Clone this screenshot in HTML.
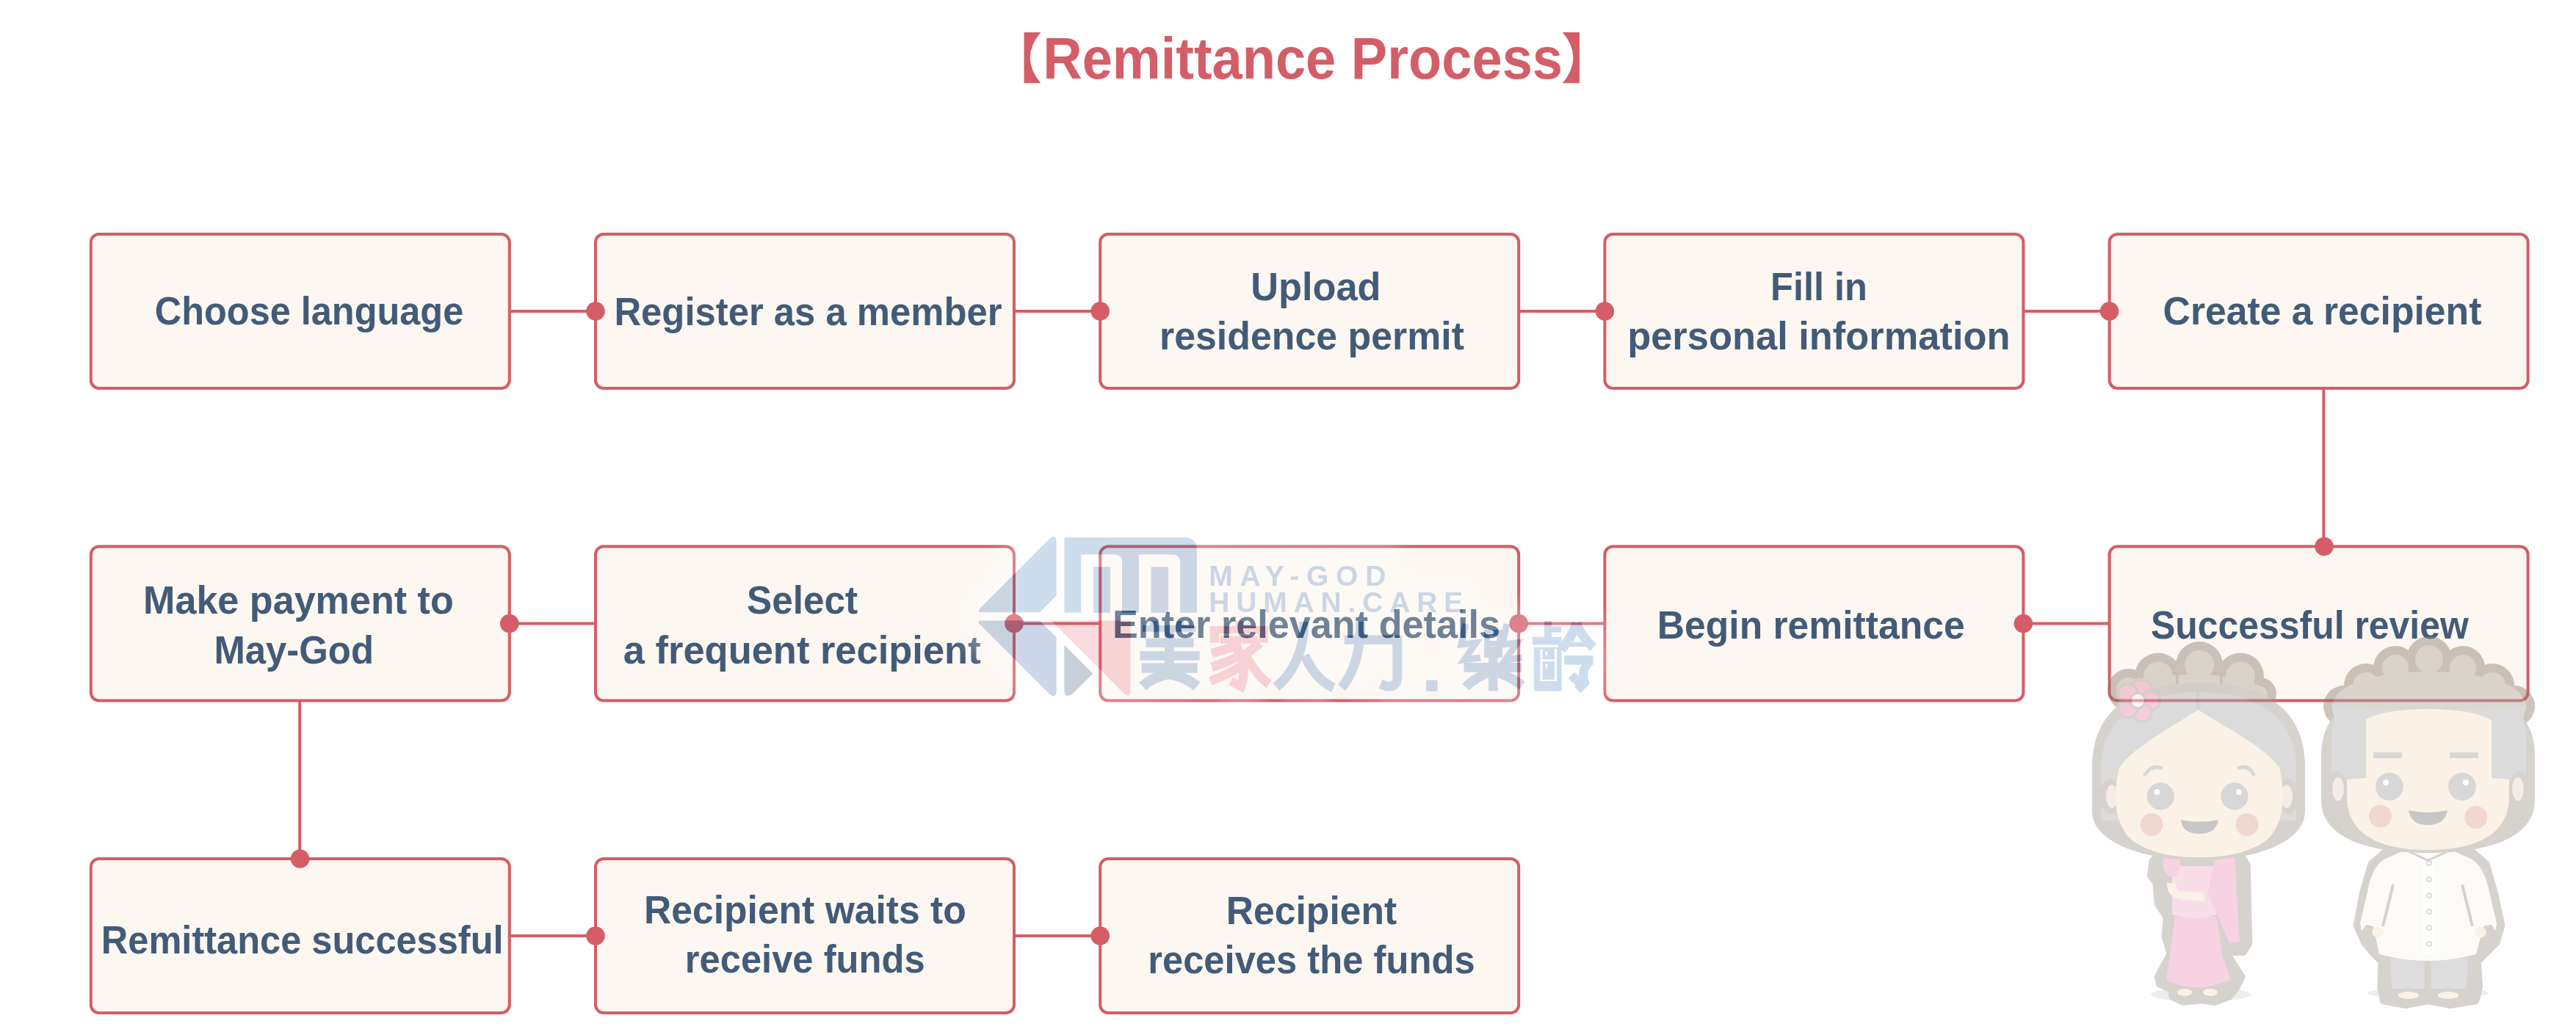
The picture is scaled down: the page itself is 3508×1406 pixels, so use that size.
<!DOCTYPE html>
<html><head><meta charset="utf-8">
<style>
html,body{margin:0;padding:0;background:#fff;width:3508px;height:1406px;overflow:hidden;}
svg{display:block;position:absolute;left:0;top:0;}
text{font-family:"Liberation Sans",sans-serif;font-weight:bold;}
</style></head>
<body>
<svg width="3508" height="1406" viewBox="0 0 3508 1406">
<rect width="3508" height="1406" fill="#ffffff"/>
<text x="1420.2" y="107.0" textLength="707.8" lengthAdjust="spacingAndGlyphs" font-size="79.5" fill="#d35e68">Remittance Process</text><path d="M1394.5,44 H1417.3 Q1388.3,78.65 1417.3,113.3 H1394.5 Z" fill="#d35e68"/><path d="M2151,44 H2127.9 Q2156.9,78.65 2127.9,113.3 H2151 Z" fill="#d35e68"/>
<rect x="123.8" y="319.0" width="570" height="210" rx="11" ry="11" fill="#fdf7f2" stroke="#d45d67" stroke-width="4"/><rect x="811.0" y="319.0" width="570" height="210" rx="11" ry="11" fill="#fdf7f2" stroke="#d45d67" stroke-width="4"/><rect x="1498.2" y="319.0" width="570" height="210" rx="11" ry="11" fill="#fdf7f2" stroke="#d45d67" stroke-width="4"/><rect x="2185.4" y="319.0" width="570" height="210" rx="11" ry="11" fill="#fdf7f2" stroke="#d45d67" stroke-width="4"/><rect x="2872.6" y="319.0" width="570" height="210" rx="11" ry="11" fill="#fdf7f2" stroke="#d45d67" stroke-width="4"/><rect x="123.8" y="744.5" width="570" height="210" rx="11" ry="11" fill="#fdf7f2" stroke="#d45d67" stroke-width="4"/><rect x="811.0" y="744.5" width="570" height="210" rx="11" ry="11" fill="#fdf7f2" stroke="#d45d67" stroke-width="4"/><rect x="1498.2" y="744.5" width="570" height="210" rx="11" ry="11" fill="#fdf7f2" stroke="#d45d67" stroke-width="4"/><rect x="2185.4" y="744.5" width="570" height="210" rx="11" ry="11" fill="#fdf7f2" stroke="#d45d67" stroke-width="4"/><rect x="2872.6" y="744.5" width="570" height="210" rx="11" ry="11" fill="#fdf7f2" stroke="#d45d67" stroke-width="4"/><rect x="123.8" y="1170.0" width="570" height="210" rx="11" ry="11" fill="#fdf7f2" stroke="#d45d67" stroke-width="4"/><rect x="811.0" y="1170.0" width="570" height="210" rx="11" ry="11" fill="#fdf7f2" stroke="#d45d67" stroke-width="4"/><rect x="1498.2" y="1170.0" width="570" height="210" rx="11" ry="11" fill="#fdf7f2" stroke="#d45d67" stroke-width="4"/>
<rect x="693.8" y="422.0" width="117.2" height="4" fill="#d45d67"/><circle cx="811.0" cy="424.0" r="12.8" fill="#d45d67"/><rect x="1381.0" y="422.0" width="117.2" height="4" fill="#d45d67"/><circle cx="1498.2" cy="424.0" r="12.8" fill="#d45d67"/><rect x="2068.2" y="422.0" width="117.2" height="4" fill="#d45d67"/><circle cx="2185.4" cy="424.0" r="12.8" fill="#d45d67"/><rect x="2755.4" y="422.0" width="117.2" height="4" fill="#d45d67"/><circle cx="2872.6" cy="424.0" r="12.8" fill="#d45d67"/><rect x="693.8" y="847.5" width="117.2" height="4" fill="#d45d67"/><circle cx="693.8" cy="849.5" r="12.8" fill="#d45d67"/><rect x="1381.0" y="847.5" width="117.2" height="4" fill="#d45d67"/><circle cx="1381.0" cy="849.5" r="12.8" fill="#d45d67"/><rect x="2068.2" y="847.5" width="117.2" height="4" fill="#d45d67"/><circle cx="2068.2" cy="849.5" r="12.8" fill="#d45d67"/><rect x="2755.4" y="847.5" width="117.2" height="4" fill="#d45d67"/><circle cx="2755.4" cy="849.5" r="12.8" fill="#d45d67"/><rect x="693.8" y="1273.0" width="117.2" height="4" fill="#d45d67"/><circle cx="811.0" cy="1275.0" r="12.8" fill="#d45d67"/><rect x="1381.0" y="1273.0" width="117.2" height="4" fill="#d45d67"/><circle cx="1498.2" cy="1275.0" r="12.8" fill="#d45d67"/><rect x="3162.4" y="529.0" width="4" height="215.5" fill="#d45d67"/><circle cx="3165.0" cy="744.5" r="12.8" fill="#d45d67"/><rect x="406.2" y="954.5" width="4" height="215.5" fill="#d45d67"/><circle cx="408.6" cy="1170.0" r="12.8" fill="#d45d67"/>
<text x="210.8" y="442.0" textLength="420.4" lengthAdjust="spacingAndGlyphs" font-size="54.5" fill="#425b78">Choose language</text><text x="836.4" y="442.6" textLength="528.2" lengthAdjust="spacingAndGlyphs" font-size="54.5" fill="#425b78">Register as a member</text><text x="1703.2" y="409.0" textLength="177.4" lengthAdjust="spacingAndGlyphs" font-size="54.5" fill="#425b78">Upload</text><text x="1579.0" y="475.8" textLength="415.0" lengthAdjust="spacingAndGlyphs" font-size="54.5" fill="#425b78">residence permit</text><text x="2411.0" y="409.0" textLength="132.0" lengthAdjust="spacingAndGlyphs" font-size="54.5" fill="#425b78">Fill in</text><text x="2216.2" y="475.8" textLength="521.4" lengthAdjust="spacingAndGlyphs" font-size="54.5" fill="#425b78">personal information</text><text x="2945.6" y="442.3" textLength="433.8" lengthAdjust="spacingAndGlyphs" font-size="54.5" fill="#425b78">Create a recipient</text><text x="195.0" y="836.3" textLength="422.8" lengthAdjust="spacingAndGlyphs" font-size="54.5" fill="#425b78">Make payment to</text><text x="291.4" y="903.9" textLength="217.6" lengthAdjust="spacingAndGlyphs" font-size="54.5" fill="#425b78">May-God</text><text x="1017.0" y="836.3" textLength="151.2" lengthAdjust="spacingAndGlyphs" font-size="54.5" fill="#425b78">Select</text><text x="848.8" y="903.9" textLength="486.8" lengthAdjust="spacingAndGlyphs" font-size="54.5" fill="#425b78">a frequent recipient</text><text x="1515.0" y="868.6" textLength="528.0" lengthAdjust="spacingAndGlyphs" font-size="54.5" fill="#425b78">Enter relevant details</text><text x="2256.8" y="869.6" textLength="418.8" lengthAdjust="spacingAndGlyphs" font-size="54.5" fill="#425b78">Begin remittance</text><text x="2929.0" y="869.6" textLength="432.8" lengthAdjust="spacingAndGlyphs" font-size="54.5" fill="#425b78">Successful review</text><text x="137.8" y="1299.3" textLength="547.8" lengthAdjust="spacingAndGlyphs" font-size="54.5" fill="#425b78">Remittance successful</text><text x="877.0" y="1257.8" textLength="438.8" lengthAdjust="spacingAndGlyphs" font-size="54.5" fill="#425b78">Recipient waits to</text><text x="932.8" y="1324.9" textLength="326.8" lengthAdjust="spacingAndGlyphs" font-size="54.5" fill="#425b78">receive funds</text><text x="1669.8" y="1259.0" textLength="232.4" lengthAdjust="spacingAndGlyphs" font-size="54.5" fill="#425b78">Recipient</text><text x="1563.2" y="1325.8" textLength="445.4" lengthAdjust="spacingAndGlyphs" font-size="54.5" fill="#425b78">receives the funds</text>
<defs><filter id="glow" x="-20%" y="-40%" width="140%" height="180%"><feGaussianBlur stdDeviation="10"/></filter></defs>
<mask id="wmmask" maskUnits="userSpaceOnUse" x="0" y="0" width="3508" height="1406"><rect width="3508" height="1406" fill="#fff"/><g fill="#000" color="#000"><path d="M1438.7,811.3 L1438.7,740 Q1438.7,726 1429,734.3 L1335,828.3 Q1329.1,834.2 1337.5,834.2 L1415.8,834.2 Z"/><path d="M1438.7,868.3 L1438.7,939.6 Q1438.7,953.6 1429,945.3 L1335,851.3 Q1329.1,845.4 1337.5,845.4 L1415.8,845.4 Z"/><path d="M1449.3,878.8 L1488.3,917.8 L1461,945 Q1449.3,953 1449.3,940 Z"/><path d="M1431.4,845.4 L1539.5,845.4 L1539.5,940 Q1539.5,953 1530,944 Z"/><path d="M1449.5,834.7 V732.2 H1612 Q1630,732.2 1630,750 V834.7 H1607.1 V766.5 Q1607.1,755.6 1596.5,755.6 H1550.9 V834.7 H1528 V766.5 Q1528,755.6 1517.5,755.6 H1472.3 V834.7 Z M1489,772.3 H1511.9 V834.7 H1489 Z M1567.6,772.3 H1591 V834.7 H1567.6 Z"/><text x="1646.3" y="798.4" font-size="39" textLength="241" lengthAdjust="spacing" font-family="Liberation Sans" font-weight="bold">MAY-GOD</text><text x="1646.3" y="834.3" font-size="39" textLength="346" lengthAdjust="spacing" font-family="Liberation Sans" font-weight="bold">HUMAN.CARE</text><rect x="1942.2" y="926.5" width="15.4" height="15.4"/><rect x="1566.0" y="846.0" width="10.0" height="8.0"/><rect x="1602.0" y="846.0" width="10.0" height="8.0"/><rect x="1556.0" y="851.8" width="72.5" height="8.9"/><rect x="1560.7" y="869.5" width="64.9" height="12.5"/><rect x="1552.5" y="887.2" width="81.2" height="12.5"/><rect x="1554.7" y="903.4" width="76.0" height="13.3"/><rect x="1586.0" y="856.0" width="13.0" height="65.0"/><path d="M1592,918 Q1570,922 1556,935" fill="none" stroke="currentColor" stroke-width="14" stroke-linecap="butt"/><path d="M1592,918 Q1614,922 1630,935" fill="none" stroke="currentColor" stroke-width="14" stroke-linecap="butt"/><path d="M1776,847 Q1775,905 1738,936" fill="none" stroke="currentColor" stroke-width="13" stroke-linecap="butt"/><path d="M1777,893 Q1790,925 1816,937" fill="none" stroke="currentColor" stroke-width="13" stroke-linecap="butt"/><rect x="1830.6" y="865.5" width="78.4" height="12.5"/><path d="M1902.8,870 V922 Q1902.8,937 1888,935 L1880,932" fill="none" stroke="currentColor" stroke-width="13" stroke-linecap="butt"/><path d="M1852.7,847 Q1853,905 1827,937" fill="none" stroke="currentColor" stroke-width="13" stroke-linecap="butt"/><rect x="1993.6" y="903.0" width="78.8" height="12.7"/><rect x="2027.0" y="880.4" width="12.6" height="61.1"/><path d="M2030,915 Q2010,922 1996,936" fill="none" stroke="currentColor" stroke-width="13" stroke-linecap="butt"/><path d="M2037,915 Q2057,922 2073,934" fill="none" stroke="currentColor" stroke-width="13" stroke-linecap="butt"/><path fill-rule="evenodd" d="M2021,858 H2046 V896 H2021 Z M2028.5,866 H2038.5 V873 H2028.5 Z M2028.5,880 H2038.5 V887 H2028.5 Z"/><path d="M1996,850 L1990,878 L2010,876 L1994,899 L2016,896" fill="none" stroke="currentColor" stroke-width="9" stroke-linecap="butt"/><path d="M2052,850 L2046,878 L2066,876 L2050,899 L2073,896" fill="none" stroke="currentColor" stroke-width="9" stroke-linecap="butt"/><rect x="2103.0" y="846.0" width="10.0" height="22.0"/><rect x="2112.0" y="853.5" width="14.0" height="8.0"/><rect x="2086.9" y="867.8" width="39.7" height="10.7"/><path fill-rule="evenodd" d="M2088.8,881.7 H2126.6 V941.5 H2088.8 Z M2097.5,884 H2100.5 V928 H2097.5 Z M2117,884 H2120 V928 H2117 Z M2100.5,898.5 H2117 V901 H2100.5 Z M2100.5,926 H2117 V928 H2100.5 Z M2104,888 L2108,888 L2106,895 Z M2104,905 L2108,905 L2106,912 Z"/><path d="M2147,849 Q2140,870 2126,885" fill="none" stroke="currentColor" stroke-width="13" stroke-linecap="butt"/><path d="M2147,849 Q2155,870 2170,882" fill="none" stroke="currentColor" stroke-width="13" stroke-linecap="butt"/><rect x="2138.0" y="875.0" width="22.0" height="6.0"/><rect x="2130.3" y="893.0" width="39.1" height="12.6"/><path d="M2166,900 Q2152,912 2158,930 L2148,940" fill="none" stroke="currentColor" stroke-width="12" stroke-linecap="butt"/><path d="M2140,920 L2158,938" fill="none" stroke="currentColor" stroke-width="12" stroke-linecap="butt"/><rect x="1683.0" y="846.0" width="11.0" height="10.0"/><rect x="1647.7" y="853.0" width="78.9" height="10.0"/><rect x="1647.7" y="853.0" width="12.3" height="22.4"/><rect x="1714.0" y="853.0" width="12.6" height="22.4"/><rect x="1661.7" y="866.5" width="50.9" height="10.4"/><path d="M1650,890 Q1670,885 1690,878" fill="none" stroke="currentColor" stroke-width="12.5" stroke-linecap="butt"/><path d="M1650,909 Q1672,902 1688,893" fill="none" stroke="currentColor" stroke-width="12.5" stroke-linecap="butt"/><path d="M1648,928 Q1675,918 1692,906" fill="none" stroke="currentColor" stroke-width="12.5" stroke-linecap="butt"/><path d="M1683,882 Q1700,905 1690,935 L1676,928" fill="none" stroke="currentColor" stroke-width="12.5" stroke-linecap="butt"/><path d="M1693,886 Q1710,920 1728,932" fill="none" stroke="currentColor" stroke-width="12.5" stroke-linecap="butt"/><path d="M1698,890 L1716,876" fill="none" stroke="currentColor" stroke-width="12.5" stroke-linecap="butt"/></g></mask>
<g mask="url(#wmmask)"><g opacity="0.24" filter="url(#glow)"><g fill="#fff" stroke="#fff" color="#fff" stroke-width="72" stroke-linejoin="round"><path d="M1438.7,811.3 L1438.7,740 Q1438.7,726 1429,734.3 L1335,828.3 Q1329.1,834.2 1337.5,834.2 L1415.8,834.2 Z"/><path d="M1438.7,868.3 L1438.7,939.6 Q1438.7,953.6 1429,945.3 L1335,851.3 Q1329.1,845.4 1337.5,845.4 L1415.8,845.4 Z"/><path d="M1449.3,878.8 L1488.3,917.8 L1461,945 Q1449.3,953 1449.3,940 Z"/><path d="M1431.4,845.4 L1539.5,845.4 L1539.5,940 Q1539.5,953 1530,944 Z"/><path d="M1449.5,834.7 V732.2 H1612 Q1630,732.2 1630,750 V834.7 H1607.1 V766.5 Q1607.1,755.6 1596.5,755.6 H1550.9 V834.7 H1528 V766.5 Q1528,755.6 1517.5,755.6 H1472.3 V834.7 Z M1489,772.3 H1511.9 V834.7 H1489 Z M1567.6,772.3 H1591 V834.7 H1567.6 Z"/><text x="1646.3" y="798.4" font-size="39" textLength="241" lengthAdjust="spacing" font-family="Liberation Sans" font-weight="bold">MAY-GOD</text><text x="1646.3" y="834.3" font-size="39" textLength="346" lengthAdjust="spacing" font-family="Liberation Sans" font-weight="bold">HUMAN.CARE</text><rect x="1942.2" y="926.5" width="15.4" height="15.4"/><rect x="1566.0" y="846.0" width="10.0" height="8.0"/><rect x="1602.0" y="846.0" width="10.0" height="8.0"/><rect x="1556.0" y="851.8" width="72.5" height="8.9"/><rect x="1560.7" y="869.5" width="64.9" height="12.5"/><rect x="1552.5" y="887.2" width="81.2" height="12.5"/><rect x="1554.7" y="903.4" width="76.0" height="13.3"/><rect x="1586.0" y="856.0" width="13.0" height="65.0"/><path d="M1592,918 Q1570,922 1556,935" fill="none" stroke="currentColor" data-sw="14" stroke-linecap="butt"/><path d="M1592,918 Q1614,922 1630,935" fill="none" stroke="currentColor" data-sw="14" stroke-linecap="butt"/><path d="M1776,847 Q1775,905 1738,936" fill="none" stroke="currentColor" data-sw="13" stroke-linecap="butt"/><path d="M1777,893 Q1790,925 1816,937" fill="none" stroke="currentColor" data-sw="13" stroke-linecap="butt"/><rect x="1830.6" y="865.5" width="78.4" height="12.5"/><path d="M1902.8,870 V922 Q1902.8,937 1888,935 L1880,932" fill="none" stroke="currentColor" data-sw="13" stroke-linecap="butt"/><path d="M1852.7,847 Q1853,905 1827,937" fill="none" stroke="currentColor" data-sw="13" stroke-linecap="butt"/><rect x="1993.6" y="903.0" width="78.8" height="12.7"/><rect x="2027.0" y="880.4" width="12.6" height="61.1"/><path d="M2030,915 Q2010,922 1996,936" fill="none" stroke="currentColor" data-sw="13" stroke-linecap="butt"/><path d="M2037,915 Q2057,922 2073,934" fill="none" stroke="currentColor" data-sw="13" stroke-linecap="butt"/><path fill-rule="evenodd" d="M2021,858 H2046 V896 H2021 Z M2028.5,866 H2038.5 V873 H2028.5 Z M2028.5,880 H2038.5 V887 H2028.5 Z"/><path d="M1996,850 L1990,878 L2010,876 L1994,899 L2016,896" fill="none" stroke="currentColor" data-sw="9" stroke-linecap="butt"/><path d="M2052,850 L2046,878 L2066,876 L2050,899 L2073,896" fill="none" stroke="currentColor" data-sw="9" stroke-linecap="butt"/><rect x="2103.0" y="846.0" width="10.0" height="22.0"/><rect x="2112.0" y="853.5" width="14.0" height="8.0"/><rect x="2086.9" y="867.8" width="39.7" height="10.7"/><path fill-rule="evenodd" d="M2088.8,881.7 H2126.6 V941.5 H2088.8 Z M2097.5,884 H2100.5 V928 H2097.5 Z M2117,884 H2120 V928 H2117 Z M2100.5,898.5 H2117 V901 H2100.5 Z M2100.5,926 H2117 V928 H2100.5 Z M2104,888 L2108,888 L2106,895 Z M2104,905 L2108,905 L2106,912 Z"/><path d="M2147,849 Q2140,870 2126,885" fill="none" stroke="currentColor" data-sw="13" stroke-linecap="butt"/><path d="M2147,849 Q2155,870 2170,882" fill="none" stroke="currentColor" data-sw="13" stroke-linecap="butt"/><rect x="2138.0" y="875.0" width="22.0" height="6.0"/><rect x="2130.3" y="893.0" width="39.1" height="12.6"/><path d="M2166,900 Q2152,912 2158,930 L2148,940" fill="none" stroke="currentColor" data-sw="12" stroke-linecap="butt"/><path d="M2140,920 L2158,938" fill="none" stroke="currentColor" data-sw="12" stroke-linecap="butt"/><rect x="1683.0" y="846.0" width="11.0" height="10.0"/><rect x="1647.7" y="853.0" width="78.9" height="10.0"/><rect x="1647.7" y="853.0" width="12.3" height="22.4"/><rect x="1714.0" y="853.0" width="12.6" height="22.4"/><rect x="1661.7" y="866.5" width="50.9" height="10.4"/><path d="M1650,890 Q1670,885 1690,878" fill="none" stroke="currentColor" data-sw="12.5" stroke-linecap="butt"/><path d="M1650,909 Q1672,902 1688,893" fill="none" stroke="currentColor" data-sw="12.5" stroke-linecap="butt"/><path d="M1648,928 Q1675,918 1692,906" fill="none" stroke="currentColor" data-sw="12.5" stroke-linecap="butt"/><path d="M1683,882 Q1700,905 1690,935 L1676,928" fill="none" stroke="currentColor" data-sw="12.5" stroke-linecap="butt"/><path d="M1693,886 Q1710,920 1728,932" fill="none" stroke="currentColor" data-sw="12.5" stroke-linecap="butt"/><path d="M1698,890 L1716,876" fill="none" stroke="currentColor" data-sw="12.5" stroke-linecap="butt"/></g></g></g>
<g opacity="0.21" fill="rgb(26,98,174)" color="rgb(26,98,174)"><path d="M1438.7,811.3 L1438.7,740 Q1438.7,726 1429,734.3 L1335,828.3 Q1329.1,834.2 1337.5,834.2 L1415.8,834.2 Z"/><path d="M1449.5,834.7 V732.2 H1612 Q1630,732.2 1630,750 V834.7 H1607.1 V766.5 Q1607.1,755.6 1596.5,755.6 H1550.9 V834.7 H1528 V766.5 Q1528,755.6 1517.5,755.6 H1472.3 V834.7 Z M1489,772.3 H1511.9 V834.7 H1489 Z M1567.6,772.3 H1591 V834.7 H1567.6 Z" fill-rule="evenodd"/><text x="1646.3" y="798.4" font-size="39" textLength="241" lengthAdjust="spacing" font-family="Liberation Sans" font-weight="bold">MAY-GOD</text><text x="1646.3" y="834.3" font-size="39" textLength="346" lengthAdjust="spacing" font-family="Liberation Sans" font-weight="bold">HUMAN.CARE</text><rect x="1942.2" y="926.5" width="15.4" height="15.4"/><rect x="1566.0" y="846.0" width="10.0" height="8.0"/><rect x="1602.0" y="846.0" width="10.0" height="8.0"/><rect x="1556.0" y="851.8" width="72.5" height="8.9"/><rect x="1560.7" y="869.5" width="64.9" height="12.5"/><rect x="1552.5" y="887.2" width="81.2" height="12.5"/><rect x="1554.7" y="903.4" width="76.0" height="13.3"/><rect x="1586.0" y="856.0" width="13.0" height="65.0"/><path d="M1592,918 Q1570,922 1556,935" fill="none" stroke="currentColor" stroke-width="14" stroke-linecap="butt"/><path d="M1592,918 Q1614,922 1630,935" fill="none" stroke="currentColor" stroke-width="14" stroke-linecap="butt"/><path d="M1776,847 Q1775,905 1738,936" fill="none" stroke="currentColor" stroke-width="13" stroke-linecap="butt"/><path d="M1777,893 Q1790,925 1816,937" fill="none" stroke="currentColor" stroke-width="13" stroke-linecap="butt"/><rect x="1830.6" y="865.5" width="78.4" height="12.5"/><path d="M1902.8,870 V922 Q1902.8,937 1888,935 L1880,932" fill="none" stroke="currentColor" stroke-width="13" stroke-linecap="butt"/><path d="M1852.7,847 Q1853,905 1827,937" fill="none" stroke="currentColor" stroke-width="13" stroke-linecap="butt"/><rect x="1993.6" y="903.0" width="78.8" height="12.7"/><rect x="2027.0" y="880.4" width="12.6" height="61.1"/><path d="M2030,915 Q2010,922 1996,936" fill="none" stroke="currentColor" stroke-width="13" stroke-linecap="butt"/><path d="M2037,915 Q2057,922 2073,934" fill="none" stroke="currentColor" stroke-width="13" stroke-linecap="butt"/><path fill-rule="evenodd" d="M2021,858 H2046 V896 H2021 Z M2028.5,866 H2038.5 V873 H2028.5 Z M2028.5,880 H2038.5 V887 H2028.5 Z"/><path d="M1996,850 L1990,878 L2010,876 L1994,899 L2016,896" fill="none" stroke="currentColor" stroke-width="9" stroke-linecap="butt"/><path d="M2052,850 L2046,878 L2066,876 L2050,899 L2073,896" fill="none" stroke="currentColor" stroke-width="9" stroke-linecap="butt"/><rect x="2103.0" y="846.0" width="10.0" height="22.0"/><rect x="2112.0" y="853.5" width="14.0" height="8.0"/><rect x="2086.9" y="867.8" width="39.7" height="10.7"/><path fill-rule="evenodd" d="M2088.8,881.7 H2126.6 V941.5 H2088.8 Z M2097.5,884 H2100.5 V928 H2097.5 Z M2117,884 H2120 V928 H2117 Z M2100.5,898.5 H2117 V901 H2100.5 Z M2100.5,926 H2117 V928 H2100.5 Z M2104,888 L2108,888 L2106,895 Z M2104,905 L2108,905 L2106,912 Z"/><path d="M2147,849 Q2140,870 2126,885" fill="none" stroke="currentColor" stroke-width="13" stroke-linecap="butt"/><path d="M2147,849 Q2155,870 2170,882" fill="none" stroke="currentColor" stroke-width="13" stroke-linecap="butt"/><rect x="2138.0" y="875.0" width="22.0" height="6.0"/><rect x="2130.3" y="893.0" width="39.1" height="12.6"/><path d="M2166,900 Q2152,912 2158,930 L2148,940" fill="none" stroke="currentColor" stroke-width="12" stroke-linecap="butt"/><path d="M2140,920 L2158,938" fill="none" stroke="currentColor" stroke-width="12" stroke-linecap="butt"/></g>
<g opacity="0.25" fill="rgb(47,91,163)"><path d="M1438.7,868.3 L1438.7,939.6 Q1438.7,953.6 1429,945.3 L1335,851.3 Q1329.1,845.4 1337.5,845.4 L1415.8,845.4 Z"/></g>
<g opacity="0.30" fill="rgb(70,100,130)"><path d="M1449.3,878.8 L1488.3,917.8 L1461,945 Q1449.3,953 1449.3,940 Z"/></g>
<g opacity="0.21" fill="rgb(231,79,98)" color="rgb(231,79,98)"><path d="M1431.4,845.4 L1539.5,845.4 L1539.5,940 Q1539.5,953 1530,944 Z"/><rect x="1683.0" y="846.0" width="11.0" height="10.0"/><rect x="1647.7" y="853.0" width="78.9" height="10.0"/><rect x="1647.7" y="853.0" width="12.3" height="22.4"/><rect x="1714.0" y="853.0" width="12.6" height="22.4"/><rect x="1661.7" y="866.5" width="50.9" height="10.4"/><path d="M1650,890 Q1670,885 1690,878" fill="none" stroke="currentColor" stroke-width="12.5" stroke-linecap="butt"/><path d="M1650,909 Q1672,902 1688,893" fill="none" stroke="currentColor" stroke-width="12.5" stroke-linecap="butt"/><path d="M1648,928 Q1675,918 1692,906" fill="none" stroke="currentColor" stroke-width="12.5" stroke-linecap="butt"/><path d="M1683,882 Q1700,905 1690,935 L1676,928" fill="none" stroke="currentColor" stroke-width="12.5" stroke-linecap="butt"/><path d="M1693,886 Q1710,920 1728,932" fill="none" stroke="currentColor" stroke-width="12.5" stroke-linecap="butt"/><path d="M1698,890 L1716,876" fill="none" stroke="currentColor" stroke-width="12.5" stroke-linecap="butt"/></g>
<g opacity="0.45"><ellipse cx="2996.8" cy="1355.0" rx="68.0" ry="9.7" fill="#d8d8d8" /><path d="M2944.8,1156.6 L2931.5,1173.6 L2929.0,1193.0 L2936.3,1202.6 L2938.7,1231.7 L2947.2,1243.8 L2950.8,1251.0 L2948.4,1275.3 L2955.7,1299.5 L2938.7,1331.0 L2941.2,1340.6 L2958.1,1347.9 L2958.1,1357.6 L2972.6,1364.8 L2996.8,1362.4 L3016.2,1364.8 L3035.6,1357.6 L3045.3,1345.5 L3052.5,1331.0 L3035.6,1304.3 L3035.6,1297.0 L3055.0,1297.0 L3062.2,1285.0 L3059.8,1178.4 L3045.3,1156.6 Z" fill="#a69d94" stroke="#a69d94" stroke-width="10" stroke-linejoin="round"/><path d="M2961.7,1248.6 L2955.0,1300.0 L2950.0,1335.8 L2972.6,1344.0 L3000.0,1346.0 L3038.0,1335.8 L3026.0,1300.0 L3018.6,1248.6 Z" fill="#ed9dc1" /><path d="M2958,1180 L3016,1180 L3018,1246 Q2988,1256 2958,1246 Z" fill="#f2b8d2" /><path d="M3018.6,1158.0 L3042.8,1158.0 L3050.0,1283.0 L3036.0,1285.0 L3006.5,1217.0 Z" fill="#ed9dc1" /><ellipse cx="2957.5" cy="1176.0" rx="12.0" ry="19.0" fill="#ed9dc1" /><path d="M2951,1203 Q2950,1226 2980,1226 L3003,1228 L3000,1216 L2966,1214 L2962,1203 Z" fill="#f8e4cc" /><ellipse cx="2975.0" cy="1352.0" rx="10.0" ry="5.0" fill="#f8e4cc" /><ellipse cx="3010.0" cy="1352.0" rx="10.0" ry="5.0" fill="#f8e4cc" /><circle cx="2939.0" cy="921.5" r="32.0" fill="#8f7f6d" /><circle cx="2995.0" cy="906.0" r="32.0" fill="#8f7f6d" /><circle cx="3051.0" cy="921.5" r="32.0" fill="#8f7f6d" /><circle cx="2899.0" cy="940.0" r="29.0" fill="#8f7f6d" /><circle cx="3078.0" cy="945.0" r="22.0" fill="#8f7f6d" /><circle cx="2939.0" cy="921.5" r="20.0" fill="#b0a89f" /><circle cx="2995.0" cy="906.0" r="20.0" fill="#b0a89f" /><circle cx="3051.0" cy="921.5" r="20.0" fill="#b0a89f" /><circle cx="2899.0" cy="940.0" r="17.0" fill="#b0a89f" /><circle cx="3078.0" cy="945.0" r="10.0" fill="#b0a89f" /><ellipse cx="2990.0" cy="945.0" rx="95.0" ry="26.0" fill="#b0a89f" /><path d="M2965,912 V935 M3025,912 V935" fill="none" stroke="#8f7f6d" stroke-width="4"/><path d="M2849,1045 C2849,960 2915,930 2995,930 C3075,930 3139,960 3139,1045 L3139,1105 C3139,1150 3065,1172 2995,1172 C2925,1172 2849,1150 2849,1105 Z" fill="#a69d94" /><path d="M2861,1048 C2861,972 2922,943 2995,943 C3068,943 3127,972 3127,1048 L3127,1118 L2861,1118 Z" fill="#b0b0b0" /><ellipse cx="2874.0" cy="1085.0" rx="14.0" ry="24.0" fill="#a69d94" /><ellipse cx="3116.0" cy="1085.0" rx="14.0" ry="24.0" fill="#a69d94" /><ellipse cx="2876.0" cy="1085.0" rx="8.0" ry="16.0" fill="#e8d6c6" /><ellipse cx="3114.0" cy="1085.0" rx="8.0" ry="16.0" fill="#e8d6c6" /><path d="M2995,930 Q2991,950 2994,968" fill="none" stroke="#a69d94" stroke-width="3"/><path d="M2993.5,967 C2955,992 2905,1018 2886,1046 C2876,1085 2880,1125 2905,1146 C2932,1164 2962,1168 2995,1168 C3028,1168 3058,1164 3085,1146 C3110,1125 3114,1085 3104,1046 C3085,1018 3032,992 2993.5,967 Z" fill="#f8e4cc" /><circle cx="2942.3" cy="1084.8" r="18.6" fill="#a8a8a8" /><circle cx="3043.0" cy="1084.8" r="18.6" fill="#a8a8a8" /><circle cx="2937.0" cy="1079.0" r="4.0" fill="#fff" /><circle cx="3049.0" cy="1079.0" r="4.0" fill="#fff" /><path d="M2920,1057 Q2930,1040 2945,1047" fill="none" stroke="#a8a8a8" stroke-width="5"/><path d="M3047,1047 Q3062,1040 3070,1057" fill="none" stroke="#a8a8a8" stroke-width="5"/><circle cx="2930.0" cy="1123.5" r="15.5" fill="#e0aa96" /><circle cx="3060.0" cy="1123.5" r="15.5" fill="#e0aa96" /><path d="M2970,1117 Q2995,1122 3021,1117 Q3018,1136 2995,1136 Q2972,1136 2970,1117 Z" fill="#858585" /><circle cx="2916.3" cy="938.4" r="13.0" fill="#e990b2" stroke="#a69d94" stroke-width="4"/><circle cx="2928.3" cy="954.4" r="13.0" fill="#e990b2" stroke="#a69d94" stroke-width="4"/><circle cx="2916.8" cy="970.7" r="13.0" fill="#e990b2" stroke="#a69d94" stroke-width="4"/><circle cx="2897.7" cy="964.8" r="13.0" fill="#e990b2" stroke="#a69d94" stroke-width="4"/><circle cx="2897.4" cy="944.8" r="13.0" fill="#e990b2" stroke="#a69d94" stroke-width="4"/><circle cx="2911.3" cy="954.6" r="10.0" fill="#fbeef4" stroke="#a69d94" stroke-width="3"/></g><g opacity="0.45"><ellipse cx="3306.0" cy="1353.0" rx="82.6" ry="8.0" fill="#d8d8d8" /><path d="M3276.0,1154.0 L3248.0,1161.0 L3229.5,1177.2 L3218.0,1216.8 L3209.8,1261.0 L3220.2,1284.2 L3231.9,1298.2 L3243.5,1309.8 L3242.3,1344.7 L3245.8,1363.3 L3276.0,1369.0 L3306.3,1363.3 L3336.5,1369.0 L3371.4,1363.3 L3376.0,1344.7 L3373.8,1309.8 L3385.4,1298.2 L3399.3,1284.2 L3406.3,1261.0 L3397.0,1216.8 L3385.4,1177.2 L3366.8,1161.0 L3338.9,1154.0 Z" fill="#a69d94" stroke="#a69d94" stroke-width="10" stroke-linejoin="round"/><path d="M3255,1305 L3361,1305 L3359,1347 L3257,1347 Z" fill="#b4b4b4" /><path d="M3306,1300 V1362" fill="none" stroke="#a69d94" stroke-width="9"/><path d="M3276,1158 L3338,1158 L3365,1170 Q3383,1180 3390,1215 L3400,1258 L3382,1262 L3372,1300 Q3306,1318 3240,1300 L3232,1262 L3214,1258 L3224,1215 Q3230,1180 3248,1170 Z" fill="#fbf8ef" /><path d="M3259,1205 L3245,1262 M3353,1205 L3367,1262" fill="none" stroke="#a69d94" stroke-width="4"/><path d="M3300,1160 H3316 V1300 H3300 Z" fill="#ffffff" /><path d="M3276,1158 L3306,1172 L3338,1158" fill="none" stroke="#a69d94" stroke-width="3"/><circle cx="3308.0" cy="1176.0" r="3.0" fill="none" stroke="#a69d94" stroke-width="1.5"/><circle cx="3308.0" cy="1198.0" r="3.0" fill="none" stroke="#a69d94" stroke-width="1.5"/><circle cx="3308.0" cy="1220.0" r="3.0" fill="none" stroke="#a69d94" stroke-width="1.5"/><circle cx="3308.0" cy="1242.0" r="3.0" fill="none" stroke="#a69d94" stroke-width="1.5"/><circle cx="3308.0" cy="1264.0" r="3.0" fill="none" stroke="#a69d94" stroke-width="1.5"/><circle cx="3308.0" cy="1286.0" r="3.0" fill="none" stroke="#a69d94" stroke-width="1.5"/><path d="M3224,1258 L3214,1258 L3216,1268 Z M3392,1258 L3400,1258 L3398,1268 Z" fill="#ffffff" /><ellipse cx="3238.0" cy="1270.0" rx="8.0" ry="7.0" fill="#f8e4cc" /><ellipse cx="3378.0" cy="1270.0" rx="8.0" ry="7.0" fill="#f8e4cc" /><ellipse cx="3280.0" cy="1356.0" rx="14.0" ry="5.0" fill="#f8e4cc" /><ellipse cx="3334.0" cy="1356.0" rx="14.0" ry="5.0" fill="#f8e4cc" /><circle cx="3308.0" cy="898.0" r="31.0" fill="#8f7f6d" /><circle cx="3262.0" cy="910.0" r="30.0" fill="#8f7f6d" /><circle cx="3354.0" cy="910.0" r="30.0" fill="#8f7f6d" /><circle cx="3222.0" cy="934.0" r="30.0" fill="#8f7f6d" /><circle cx="3394.0" cy="934.0" r="30.0" fill="#8f7f6d" /><circle cx="3192.0" cy="962.0" r="28.0" fill="#8f7f6d" /><circle cx="3424.0" cy="962.0" r="28.0" fill="#8f7f6d" /><path d="M3161,1030 C3161,960 3220,935 3306,935 C3392,935 3452,960 3452,1030 L3452,1090 C3452,1145 3380,1162 3306,1162 C3232,1162 3161,1145 3161,1090 Z" fill="#a69d94" /><circle cx="3308.0" cy="898.0" r="19.0" fill="#b0a89f" /><circle cx="3262.0" cy="910.0" r="18.0" fill="#b0a89f" /><circle cx="3354.0" cy="910.0" r="18.0" fill="#b0a89f" /><circle cx="3222.0" cy="934.0" r="18.0" fill="#b0a89f" /><circle cx="3394.0" cy="934.0" r="18.0" fill="#b0a89f" /><circle cx="3192.0" cy="962.0" r="16.0" fill="#b0a89f" /><circle cx="3424.0" cy="962.0" r="16.0" fill="#b0a89f" /><ellipse cx="3308.0" cy="955.0" rx="128.0" ry="40.0" fill="#b0a89f" /><path d="M3175,1000 Q3175,975 3200,968 L3415,968 Q3440,975 3440,1000 L3440,1062 L3175,1062 Z" fill="#b0b0b0" /><ellipse cx="3182.0" cy="1075.0" rx="14.0" ry="24.0" fill="#a69d94" /><ellipse cx="3431.0" cy="1075.0" rx="14.0" ry="24.0" fill="#a69d94" /><ellipse cx="3184.0" cy="1075.0" rx="8.0" ry="16.0" fill="#e8d6c6" /><ellipse cx="3429.0" cy="1075.0" rx="8.0" ry="16.0" fill="#e8d6c6" /><path d="M3196,1020 C3196,980 3240,966 3306,966 C3372,966 3417,980 3417,1020 L3417,1085 C3417,1138 3370,1158 3306,1158 C3242,1158 3196,1138 3196,1085 Z" fill="#f8e4cc" /><path d="M3175,960 L3222,968 L3222,1060 L3195,1062 Z" fill="#b0b0b0" /><path d="M3440,960 L3393,968 L3393,1060 L3420,1062 Z" fill="#b0b0b0" /><path d="M3232,1025 H3271 V1033 H3232 Z M3336,1025 H3375 V1033 H3336 Z" fill="#a8a8a8" /><circle cx="3253.9" cy="1071.7" r="19.0" fill="#a8a8a8" /><circle cx="3353.0" cy="1071.7" r="19.0" fill="#a8a8a8" /><circle cx="3249.0" cy="1066.0" r="4.0" fill="#fff" /><circle cx="3358.0" cy="1066.0" r="4.0" fill="#fff" /><circle cx="3241.5" cy="1112.0" r="15.5" fill="#e0aa96" /><circle cx="3371.7" cy="1113.5" r="15.5" fill="#e0aa96" /><path d="M3280,1104 Q3306,1110 3333,1104 Q3330,1124 3306,1124 Q3283,1124 3280,1104 Z" fill="#858585" /></g>
</svg>
</body></html>
